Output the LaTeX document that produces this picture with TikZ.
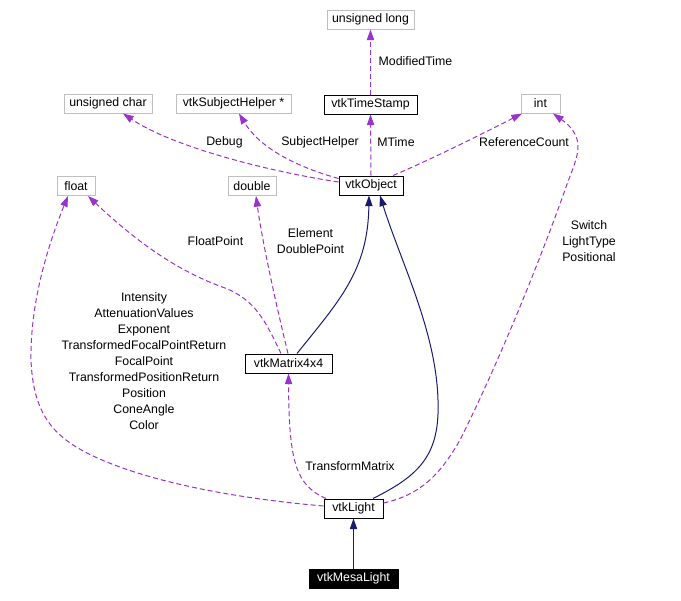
\documentclass[tikz,border=0pt]{standalone}
\usepackage{fontspec}
\setmainfont{Liberation Sans}
\usetikzlibrary{arrows.meta,calc}

\definecolor{usecol}{RGB}{154,50,205}
\definecolor{inhcol}{RGB}{25,25,112}
\definecolor{extcol}{RGB}{191,191,191}

\begin{document}
\begin{tikzpicture}[
    x=0.75pt, y=-0.75pt,
    font=\fontsize{9.25}{12}\selectfont,
    cls/.style={rectangle, draw, line width=0.75pt, minimum height=14.25pt, inner sep=0pt},
    ext/.style={cls, draw=extcol},
    usage/.style={draw=usecol, line width=0.75pt, dash pattern=on 3.75pt off 2.25pt, -{Triangle[length=8pt,width=5.5pt]}},
    inherit/.style={draw=inhcol, line width=0.75pt, -{Triangle[length=8pt,width=5.5pt]}},
    lbl/.style={inner sep=0pt, align=center}
]
    \useasboundingbox (0,0) rectangle (681,600);

    % types used by members
    \node[ext, minimum width=65.25pt] (ulong) at (370.5,19.5) {unsigned long};
    \node[ext, minimum width=66pt] (uchar) at (108,103.5) {unsigned char};
    \node[ext, minimum width=86.25pt] (helper) at (233.5,103.5) {vtkSubjectHelper *};
    \node[ext, minimum width=29.25pt] (int) at (540.5,103.5) {int};
    \node[ext, minimum width=28.5pt] (float) at (76,186) {float};
    \node[ext, minimum width=36pt] (double) at (252,186) {double};

    % classes
    \node[cls, minimum width=69.75pt] (stamp) at (370.5,104.5) {vtkTimeStamp};
    \node[cls, minimum width=48pt] (obj) at (371,185.5) {vtkObject};
    \node[cls, minimum width=65.25pt] (matrix) at (288.5,363.5) {vtkMatrix4x4};
    \node[cls, minimum width=44.25pt] (light) at (353.5,508.5) {vtkLight};
    \node[cls, minimum width=66.75pt, fill=black, text=white] (mesa) at (353.5,578.5) {vtkMesaLight};

    % member labels
    \node[lbl] (lmod) at (415.5,61) {ModifiedTime};
    \node[lbl] (lmtime) at (396,142) {MTime};
    \node[lbl] (ldebug) at (224.5,142.5) {Debug};
    \node[lbl] (lhelper) at (320,142) {SubjectHelper};
    \node[lbl] (lref) at (524,142.5) {ReferenceCount};
    \node[lbl] (lelem) at (310.5,241.5) {Element\\DoublePoint};
    \node[lbl] (lfpt) at (215.5,241.5) {FloatPoint};
    \node[lbl] (lswitch) at (589,241.5) {Switch\\LightType\\Positional};
    \node[lbl] (lfloat) at (144,361.5) {Intensity\\AttenuationValues\\Exponent\\TransformedFocalPointReturn\\FocalPoint\\TransformedPositionReturn\\Position\\ConeAngle\\Color};
    \node[lbl] (ltrans) at (350,466) {TransformMatrix};

    % usage (dashed)
    \draw[usage] (stamp.north) -- (ulong.south);
    \draw[usage] (obj.north) -- (stamp.south);
    \draw[usage] ($(obj.west)+(0,-3.5)$) .. controls (260,170) and (170,145) .. ($(uchar.south)+(15,0)$);
    \draw[usage] ($(obj.west)+(0,-7)$) .. controls (290,165) and (258,145) .. ($(helper.south)+(5.5,0)$);
    \draw[usage] ($(obj.north)+(22,0)$) .. controls (430,160) and (490,130) .. ($(int.south)+(-18.5,0)$);
    \draw[usage] ($(light.east)+(0,-5.5)$) .. controls (420,495) and (440,475) .. (460,440)
        .. controls (500,360) and (540,260) .. (565,190)
        .. controls (575,160) and (590,140) .. ($(int.south)+(12.5,0)$);
    \draw[usage] ($(light.west)+(0,-2.5)$) .. controls (230,498) and (140,480) .. (87,453)
        .. controls (50,434) and (33,410) .. (31,360)
        .. controls (30,300) and (50,240) .. ($(float.south)+(-8,0)$);
    \draw[usage] ($(matrix.north)+(-7.5,0)$) .. controls (265,320) and (255,300) .. (225,288)
        .. controls (180,272) and (140,245) .. ($(float.south)+(12,0)$);
    \draw[usage] ($(matrix.north)+(-0.5,0)$) .. controls (275,300) and (262,240) .. ($(double.south)+(4,0)$);
    \draw[usage] ($(light.north)+(-27.5,0)$) .. controls (295,485) and (289,460) .. (matrix.south);

    % inheritance (solid)
    \draw[inherit] ($(matrix.north)+(8.5,0)$) .. controls (340,300) and (368,270) .. ($(obj.south)+(-2,0)$);
    \draw[inherit] ($(light.north)+(19.5,0)$) .. controls (420,475) and (440,455) .. (438,400)
        .. controls (436,330) and (400,260) .. ($(obj.south)+(9,0)$);
    \draw[inherit] (mesa.north) -- (light.south);
\end{tikzpicture}
\end{document}
